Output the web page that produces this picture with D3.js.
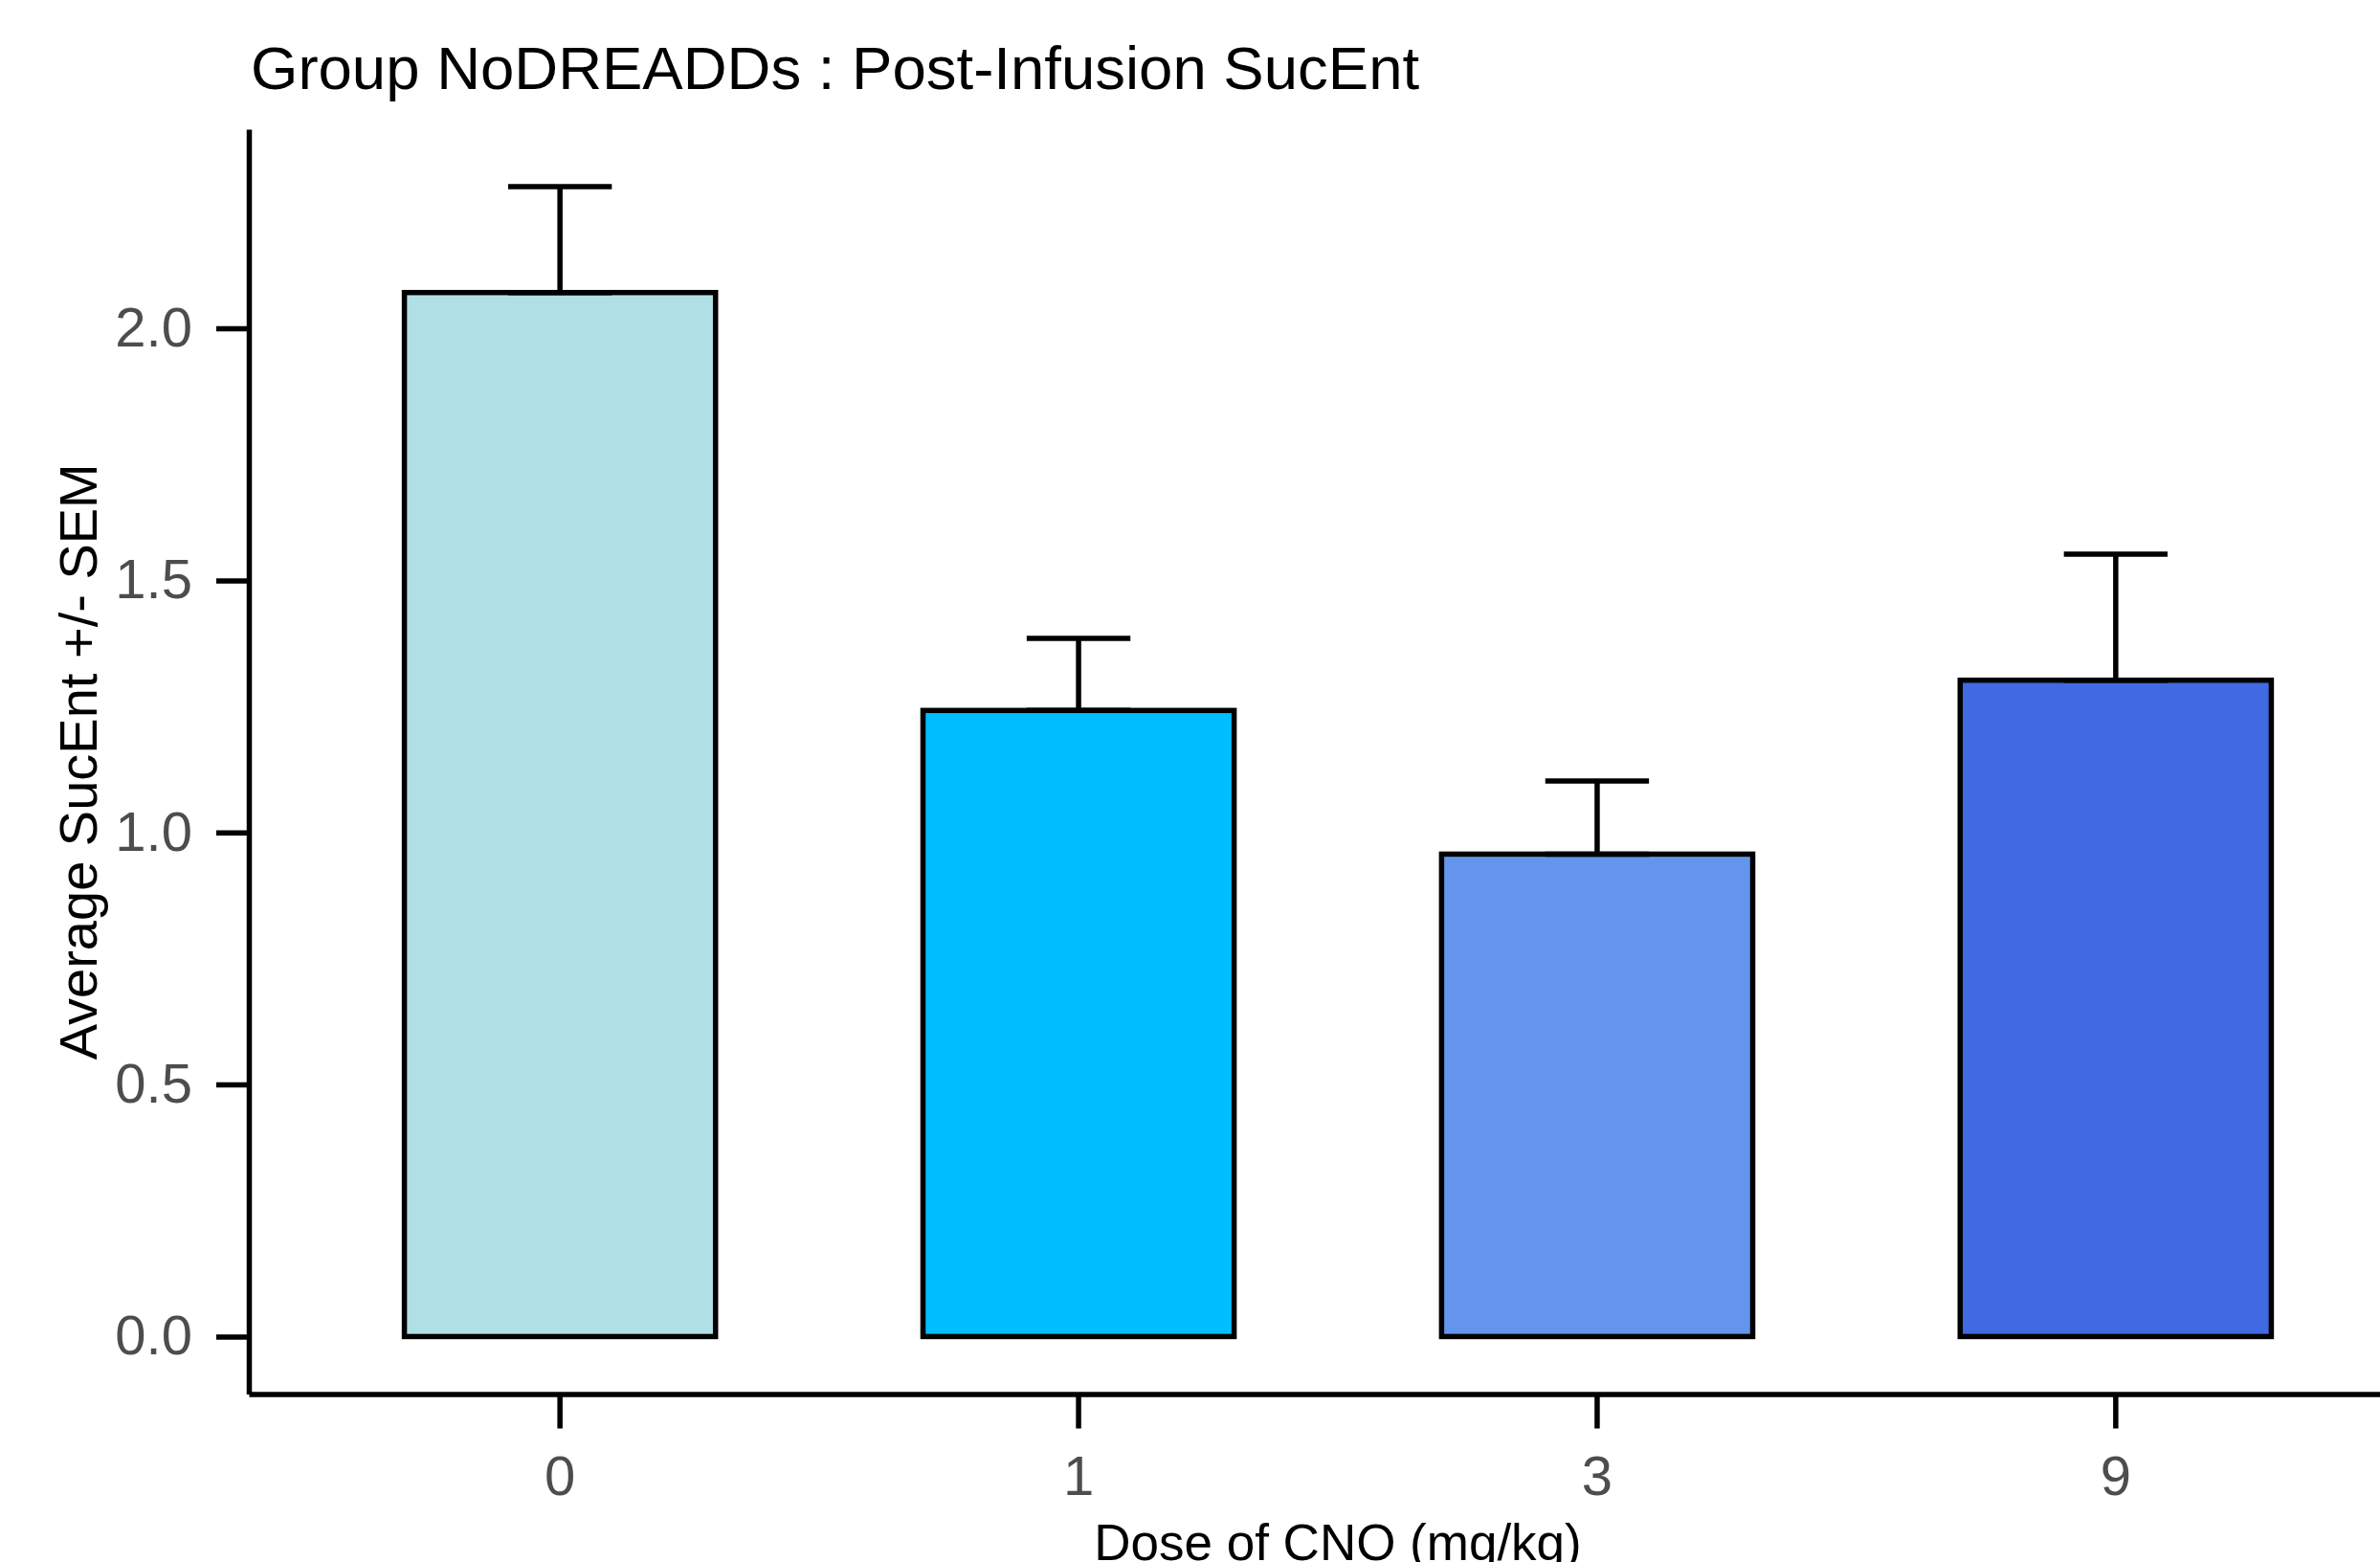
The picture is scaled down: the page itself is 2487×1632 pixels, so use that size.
<!DOCTYPE html>
<html>
<head>
<meta charset="utf-8">
<script src="https://cdn.jsdelivr.net/npm/d3@7"></script>
<style>
  body { margin: 0; background: #fff; }
  svg { display: block; }
  text { font-family: "Liberation Sans", Arial, sans-serif; }
</style>
</head>
<body>
<div id="chart"></div>
<script>
// data
const doses = ["0", "1", "3", "9"];
const means = [2.071, 1.242, 0.957, 1.302];
const sems = [0.210, 0.143, 0.145, 0.250];
const yTicks = [0, 0.5, 1.0, 1.5, 2.0];

const barColors = ["#B0E0E6", "#00BFFF", "#6495ED", "#4169E1"];

const W = 2487, H = 1632;
// panel runs past the right edge, as in the original (cropped) figure
const panel = { left: 260, right: 2536, top: 135, bottom: 1456.5 };
const lw = 5.5;

const data = doses.map((d, i) => ({ dose: d, mean: means[i], sem: sems[i] }));

const svg = d3.select("#chart")
  .append("svg")
  .attr("width", W)
  .attr("height", H);

const x = d3.scaleBand()
  .domain(doses)
  .range([panel.left, panel.right])
  .paddingInner(0)
  .paddingOuter(0.1);

const yMax = d3.max(data, d => d.mean + d.sem);
const pad = yMax * 0.05;
const y = d3.scaleLinear()
  .domain([-pad, yMax + pad])
  .range([panel.bottom, panel.top]);

const color = d3.scaleOrdinal().domain(doses).range(barColors);

const barW = x.step() * 0.6;
const capW = x.step() * 0.2;
const cx = d => x(d.dose) + x.bandwidth() / 2;

// bars
svg.append("g")
  .selectAll("rect")
  .data(data)
  .join("rect")
  .attr("x", d => cx(d) - barW / 2)
  .attr("y", d => y(d.mean))
  .attr("width", barW)
  .attr("height", d => y(0) - y(d.mean))
  .attr("fill", d => color(d.dose))
  .attr("stroke", "#000")
  .attr("stroke-width", lw);

// error bars (mean to mean + sem)
const err = svg.append("g")
  .attr("stroke", "#000")
  .attr("stroke-width", lw)
  .selectAll("g")
  .data(data)
  .join("g");

err.append("line")
  .attr("x1", cx).attr("x2", cx)
  .attr("y1", d => y(d.mean))
  .attr("y2", d => y(d.mean + d.sem));

err.append("line")
  .attr("x1", d => cx(d) - capW / 2)
  .attr("x2", d => cx(d) + capW / 2)
  .attr("y1", d => y(d.mean + d.sem))
  .attr("y2", d => y(d.mean + d.sem));

err.append("line")
  .attr("x1", d => cx(d) - capW / 2)
  .attr("x2", d => cx(d) + capW / 2)
  .attr("y1", d => y(d.mean))
  .attr("y2", d => y(d.mean));

// axes
const yAxis = svg.append("g")
  .attr("transform", `translate(${panel.left}, 0)`)
  .call(d3.axisLeft(y)
    .tickValues(yTicks)
    .tickFormat(d3.format(".1f"))
    .tickSize(34)
    .tickSizeOuter(0)
    .tickPadding(25));

const xAxis = svg.append("g")
  .attr("transform", `translate(0, ${panel.bottom})`)
  .call(d3.axisBottom(x)
    .tickSize(36)
    .tickSizeOuter(0)
    .tickPadding(28));

[yAxis, xAxis].forEach(a => {
  a.attr("font-family", null).attr("font-size", null);
  a.select(".domain").attr("stroke", "#000").attr("stroke-width", lw);
  a.selectAll(".tick line").attr("stroke", "#000").attr("stroke-width", lw);
  a.selectAll(".tick text")
    .attr("fill", "#4D4D4D")
    .style("font-size", "58px");
});

// titles
svg.append("text")
  .attr("x", 262)
  .attr("y", 93)
  .style("font-size", "63.5px")
  .attr("fill", "#000")
  .text("Group NoDREADDs : Post-Infusion SucEnt");

svg.append("text")
  .attr("transform", `translate(101, ${(panel.top + panel.bottom) / 2}) rotate(-90)`)
  .style("text-anchor", "middle")
  .style("font-size", "56px")
  .attr("fill", "#000")
  .text("Average SucEnt +/- SEM");

svg.append("text")
  .attr("x", (panel.left + panel.right) / 2)
  .attr("y", 1630)
  .style("text-anchor", "middle")
  .style("font-size", "53px")
  .attr("fill", "#000")
  .text("Dose of CNO (mg/kg)");
</script>
</body>
</html>
